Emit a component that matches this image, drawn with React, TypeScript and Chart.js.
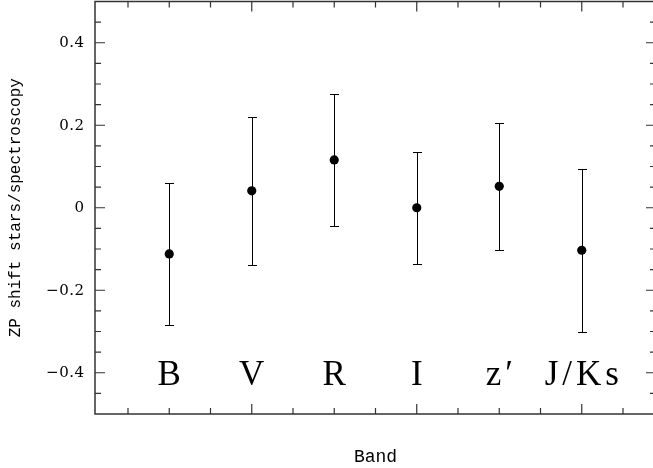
import React, { useEffect, useRef } from 'react';
import { Chart, registerables } from 'chart.js';

Chart.register(...registerables);

const bands = ['B', 'V', 'R', 'I', 'z′', 'J/Ks'];
const bandX = [1, 2, 3, 4, 5, 6];
const zpShift = [-0.112, 0.041, 0.116, 0.0, 0.052, -0.103];
const errLower = [-0.284, -0.139, -0.044, -0.136, -0.103, -0.301];
const errUpper = [0.06, 0.221, 0.275, 0.135, 0.205, 0.094];
const yTickValues = [-0.4, -0.2, 0, 0.2, 0.4];
const yTickLabels = ['−0.4', '−0.2', '0', '0.2', '0.4'];
const xTitle = 'Band';
const yTitle = 'ZP shift stars/spectroscopy';
const bandLabelLevel = -0.4;

const framePlugin = {
  id: 'pgframe',
  beforeDatasetsDraw(chart: any) {
    const { ctx, scales } = chart;
    const x = scales.x;
    const y = scales.y;
    ctx.save();
    ctx.strokeStyle = '#000';
    ctx.lineWidth = 1;
    bandX.forEach((bx, i) => {
      const px = Math.round(x.getPixelForValue(bx)) + 0.5;
      const top = Math.round(y.getPixelForValue(errUpper[i])) + 0.5;
      const bot = Math.round(y.getPixelForValue(errLower[i])) + 0.5;
      ctx.beginPath();
      ctx.moveTo(px, top);
      ctx.lineTo(px, bot);
      ctx.moveTo(px - 4.5, top);
      ctx.lineTo(px + 4.5, top);
      ctx.moveTo(px - 4.5, bot);
      ctx.lineTo(px + 4.5, bot);
      ctx.stroke();
    });
    ctx.restore();
  },
  afterDraw(chart: any) {
    const { ctx, chartArea: a, scales } = chart;
    const x = scales.x;
    const y = scales.y;
    ctx.save();
    // frame
    ctx.strokeStyle = '#333';
    ctx.lineWidth = 1.5;
    ctx.strokeRect(a.left, a.top, a.right - a.left, a.bottom - a.top);
    // ticks
    ctx.beginPath();
    for (let k = -9; k <= 9; k++) {
      const v = k * 0.05;
      const py = y.getPixelForValue(v);
      const len = k % 4 === 0 ? 10 : 6;
      ctx.moveTo(a.left, py);
      ctx.lineTo(a.left + len, py);
      ctx.moveTo(a.right, py);
      ctx.lineTo(a.right - len, py);
    }
    for (let k = 1; k <= 13; k++) {
      const v = k * 0.5;
      const px = x.getPixelForValue(v);
      const len = k % 4 === 0 ? 10 : 6;
      ctx.moveTo(px, a.bottom);
      ctx.lineTo(px, a.bottom - len);
      ctx.moveTo(px, a.top);
      ctx.lineTo(px, a.top + len);
    }
    ctx.lineWidth = 1.2;
    ctx.stroke();

    ctx.fillStyle = '#000';

    // y tick labels
    ctx.font = '15px "DejaVu Serif"';
    ctx.textBaseline = 'middle';
    ctx.textAlign = 'right';
    (ctx as any).letterSpacing = '0.5px';
    yTickValues.forEach((v, i) => {
      ctx.fillText(yTickLabels[i], a.left - 10.5, y.getPixelForValue(v) + 0.5);
    });

    // band labels
    ctx.font = '35px "Liberation Serif"';
    ctx.textBaseline = 'alphabetic';
    const base = y.getPixelForValue(bandLabelLevel) + 12;
    bands.forEach((b, i) => {
      const cx = x.getPixelForValue(bandX[i]);
      const sp = b.length > 1 ? 4 : 0;
      (ctx as any).letterSpacing = sp + 'px';
      const w = ctx.measureText(b).width - sp;
      ctx.textAlign = 'left';
      ctx.fillText(b, cx - w / 2, base);
    });
    (ctx as any).letterSpacing = '0px';

    // axis titles
    ctx.font = '18px "Liberation Mono"';
    ctx.textAlign = 'center';
    ctx.fillText(xTitle, (a.left + a.right) / 2, 462);

    ctx.font = '16px "Liberation Mono"';
    ctx.translate(20, (a.top + a.bottom) / 2);
    ctx.rotate(-Math.PI / 2);
    ctx.textAlign = 'center';
    ctx.fillText(yTitle, 0, 0);
    ctx.restore();
  },
};

export default function App() {
  const ref = useRef<HTMLCanvasElement | null>(null);
  useEffect(() => {
    if (!ref.current) return;
    const chart = new Chart(ref.current, {
      type: 'scatter',
      data: {
        datasets: [
          {
            data: bandX.map((bx, i) => ({ x: bx, y: zpShift[i] })),
            pointRadius: 4.6,
            pointBackgroundColor: '#000',
            pointBorderWidth: 0,
            borderColor: '#000',
          },
        ],
      },
      options: {
        animation: false,
        responsive: false,
        devicePixelRatio: 1,
        layout: { autoPadding: false, padding: { top: 1.5, right: 14, bottom: 54, left: 95 } },
        plugins: { legend: { display: false }, tooltip: { enabled: false } },
        scales: {
          x: { type: 'linear', min: 0.1, max: 6.9, display: false },
          y: { type: 'linear', min: -0.5, max: 0.5, display: false },
        },
      },
      plugins: [framePlugin],
    } as any);
    return () => chart.destroy();
  }, []);
  return (
    <div style={{ position: 'fixed', left: 0, top: 0, width: 653, height: 468, overflow: 'hidden', background: '#fff' }}>
      <canvas ref={ref} width={670} height={468} style={{ display: 'block' }} />
    </div>
  );
}
